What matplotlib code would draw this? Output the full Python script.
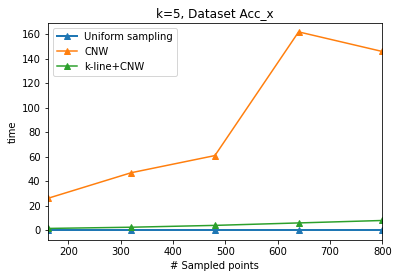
import matplotlib
matplotlib.use("Agg")
import matplotlib.pyplot as plt

x = [160, 320, 480, 640, 800]
uniform = [0.3, 0.3, 0.3, 0.3, 0.3]
cnw = [26, 47, 61, 162, 146]
kline = [1.5, 2.5, 4.0, 6.0, 8.0]

W, H = 398, 278
fig = plt.figure(figsize=(W / 72, H / 72), dpi=72)
ax = fig.add_axes([47.5 / W, (H - 240.2) / H, (382.3 - 47.5) / W, (240.2 - 22.7) / H])
ax.plot(x, uniform, marker='^', color='#1f77b4', lw=2, label='Uniform sampling')
ax.plot(x, cnw, marker='^', color='#ff7f0e', label='CNW')
ax.plot(x, kline, marker='^', color='#2ca02c', label='k-line+CNW')
ax.set_xlim(160, 800)
ax.set_ylim(-8.1, 169.5)
ax.set_xticks([200, 300, 400, 500, 600, 700, 800])
ax.set_yticks([0, 20, 40, 60, 80, 100, 120, 140, 160])
ax.set_xlabel('# Sampled points')
ax.set_ylabel('time')
ax.set_title('k=5, Dataset Acc_x')
ax.legend(loc='upper left')
fig.savefig('out.png', dpi=72)
